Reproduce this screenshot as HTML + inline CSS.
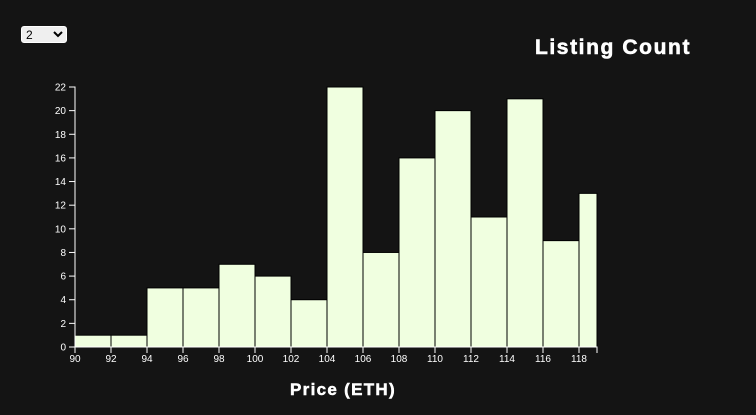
<!DOCTYPE html>
<html><head><meta charset="utf-8"><style>
body{margin:0;background:#141414;width:756px;height:415px;overflow:hidden;font-family:"Liberation Sans",sans-serif}
select{position:absolute;left:21px;top:26px;width:46px;height:17px;font-size:12px;border-radius:3px;border:1px solid #fff;padding:0}
svg{position:absolute;left:0;top:0}
</style></head><body>
<select><option>2</option></select>
<svg id="c" width="756" height="415"></svg>
<script>
const binStarts=[90,92,94,96,98,100,102,104,106,108,110,112,114,116,118];
const binEnds=[92,94,96,98,100,102,104,106,108,110,112,114,116,118,119];
const counts=[1,1,5,5,7,6,4,22,8,16,20,11,21,9,13];
const xTicks=[90,92,94,96,98,100,102,104,106,108,110,112,114,116,118];
const yTicks=[0,2,4,6,8,10,12,14,16,18,20,22];
const svg=document.getElementById('c');const NS='http://www.w3.org/2000/svg';
const x=v=>75+(v-90)*(597-75)/(119-90);
const y=v=>347-v*(347-87)/22;
function mk(t,a,p){const e=document.createElementNS(NS,t);for(const k in a)e.setAttribute(k,a[k]);(p||svg).appendChild(e);return e;}
counts.forEach((c,i)=>{const r=mk('rect',{x:x(binStarts[i]),y:y(c),width:x(binEnds[i])-x(binStarts[i]),height:y(0)-y(c),fill:'#f0ffe0',stroke:'#000','stroke-width':1});

});
const g=mk('g',{});


mk('path',{d:`M${x(90)},353V347H${x(119)}V353`,stroke:'#fff',fill:'none'},g);
xTicks.forEach(t=>{mk('line',{x1:x(t),x2:x(t),y1:347,y2:353,stroke:'#fff'},g);const tx=mk('text',{x:x(t),y:362,fill:'#fff','font-size':10,'text-anchor':'middle'},g);tx.textContent=t;});
const gy=mk('g',{});


mk('path',{d:`M69,${y(22)}H75V${y(0)}H69`,stroke:'#fff',fill:'none'},gy);
yTicks.forEach(t=>{mk('line',{x1:69,x2:75,y1:y(t),y2:y(t),stroke:'#fff'},gy);const tx=mk('text',{x:66,y:y(t)+3.5,fill:'#fff','font-size':10,'text-anchor':'end'},gy);tx.textContent=t;});
const tt=mk('text',{x:613,y:54,fill:'#fff','font-size':21,'font-weight':'bold','text-anchor':'middle','letter-spacing':'1.6','stroke':'#fff','stroke-width':0.6});tt.textContent='Listing Count';


const xt=mk('text',{x:343,y:395,fill:'#fff','font-size':17,'font-weight':'bold','text-anchor':'middle','letter-spacing':'1.3','stroke':'#fff','stroke-width':0.5});xt.textContent='Price (ETH)';


</script></body></html>
